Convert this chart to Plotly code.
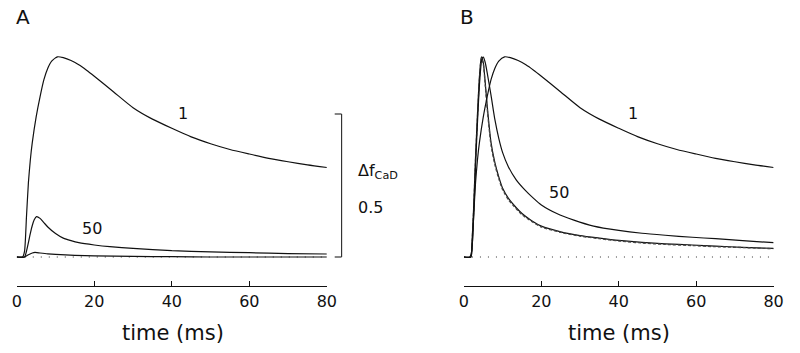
import plotly.graph_objects as go

# ---- data ----
# curve "1" (same in both panels)
t1 = [0, 1.5, 2, 2.5, 3, 3.5, 4, 5, 6, 7, 8, 9, 10.5, 12, 14, 16, 18, 20, 25, 30, 35, 40, 45, 50, 55, 60, 65, 70, 75, 80]
v1 = [0, 0, 0.02, 0.14, 0.26, 0.34, 0.40, 0.49, 0.56, 0.62, 0.66, 0.685, 0.70, 0.697, 0.687, 0.672, 0.653, 0.632,
      0.577, 0.522, 0.482, 0.45, 0.42, 0.396, 0.376, 0.36, 0.345, 0.333, 0.322, 0.313]

# panel A: curve "50" and lowest curve
ta50 = [0, 2.0, 2.5, 3.0, 3.5, 4.0, 4.5, 5.1, 6, 7, 8, 10, 12, 14, 16, 20, 24, 30, 40, 50, 60, 70, 80]
va50 = [0, 0, 0.02, 0.05, 0.083, 0.11, 0.13, 0.141, 0.135, 0.12, 0.105, 0.082, 0.066, 0.057, 0.05, 0.042, 0.036,
        0.03, 0.022, 0.018, 0.015, 0.012, 0.0105]
ta3 = [0, 2.0, 3.0, 4.0, 4.7, 6, 8, 10, 15, 20, 30, 40, 50, 80]
va3 = [0, 0, 0.008, 0.014, 0.016, 0.014, 0.011, 0.009, 0.006, 0.004, 0.002, 0.001, 0, 0]

# panel B: normalised curve "50", lowest solid curve and dashed curve
tb50 = [0, 1.8, 2.1, 2.6, 3.1, 3.6, 4.1, 4.6, 5.0, 5.5, 6, 7, 8, 9, 10, 11.5, 13.5, 15.8, 18, 20, 24, 28.4, 33.5,
        40, 46, 52, 59, 65, 72, 80]
vb50 = [0, 0, 0.03, 0.17, 0.35, 0.50, 0.62, 0.69, 0.70, 0.68, 0.645, 0.565, 0.48, 0.415, 0.365, 0.315, 0.27, 0.234,
        0.205, 0.182, 0.152, 0.129, 0.108, 0.093, 0.083, 0.076, 0.069, 0.064, 0.057, 0.050]
tb3 = [0, 1.8, 2.0, 2.5, 3.0, 3.5, 4.0, 4.5, 5.0, 5.5, 6.0, 6.5, 7, 8, 9, 10, 11.5, 13, 15, 17.5, 20, 25, 30, 35,
       40, 46, 52, 59, 65, 72, 80]
vb3 = [0, 0, 0.03, 0.17, 0.35, 0.50, 0.63, 0.70, 0.68, 0.61, 0.53, 0.46, 0.40, 0.33, 0.28, 0.24, 0.205, 0.18, 0.152,
       0.127, 0.108, 0.088, 0.075, 0.066, 0.058, 0.051, 0.046, 0.042, 0.038, 0.034, 0.030]
tbd = [2.0, 2.5, 3.0, 3.5, 4.0, 4.5, 5.0, 5.5, 6.0, 6.5, 7, 8, 9, 10, 11.5, 13, 15, 17.5, 20, 25, 30, 35, 40, 46,
       52, 59, 65, 72, 80]
vbd = [0.02, 0.16, 0.34, 0.49, 0.62, 0.695, 0.675, 0.60, 0.52, 0.45, 0.39, 0.322, 0.274, 0.235, 0.200, 0.176, 0.148,
       0.124, 0.105, 0.086, 0.073, 0.064, 0.056, 0.049, 0.044, 0.040, 0.036, 0.033, 0.029]

# zero (dotted) reference line
t0 = [0, 80]
v0 = [0, 0]

xticks = [0, 20, 40, 60, 80]
xlabel = "time (ms)"
scale_bar = [0, 0.5]

W, H = 800, 353
FONT = "DejaVu Sans"
BLACK = "#111111"

fig = go.Figure()


def line(x, y, xa, ya, width=1.2, color=BLACK, dash=None):
    fig.add_trace(go.Scatter(x=x, y=y, mode="lines", xaxis=xa, yaxis=ya, showlegend=False, hoverinfo="skip",
                             line=dict(color=color, width=width, dash=dash, shape="spline", smoothing=0.6)))


# panel A
line(t0, v0, "x", "y", width=1.3, color="#777777", dash="1px,7px")
line(ta3, va3, "x", "y")
line(ta50, va50, "x", "y")
line(t1, v1, "x", "y")
# panel B
line(t0, v0, "x2", "y2", width=1.3, color="#777777", dash="1px,7px")
line(tb3, vb3, "x2", "y2")
line(tbd, vbd, "x2", "y2", width=1.3, color="#444444", dash="3px,2px")
line(tb50, vb50, "x2", "y2")
line(t1, v1, "x2", "y2")

# plot area: y = 0 at 257 px, 0.5 units = 143 px, bottom (x axis line) at 286 px
top_px, bot_px = 40, 286
upp = 0.5 / 143
yr = [-(bot_px - 257) * upp, (257 - top_px) * upp]
ydom = [1 - bot_px / H, 1 - top_px / H]

axis_common = dict(range=[0, 80], tickvals=xticks, ticks="inside", ticklen=5, tickcolor=BLACK,
                   showline=True, linecolor=BLACK, linewidth=1.2, showgrid=False, zeroline=False,
                   tickfont=dict(family=FONT, size=16, color=BLACK), ticklabelstandoff=1)
yaxis_common = dict(range=yr, domain=ydom, visible=False, showgrid=False, zeroline=False)

fig.update_layout(
    width=W, height=H, paper_bgcolor="white", plot_bgcolor="white",
    margin=dict(l=0, r=0, t=0, b=0),
    xaxis=dict(domain=[12 / W, 328 / W], anchor="y", **axis_common),
    xaxis2=dict(domain=[467.7 / W, 783.3 / W], anchor="y2", **axis_common),
    yaxis=dict(anchor="x", **yaxis_common),
    yaxis2=dict(anchor="x2", **yaxis_common),
    font=dict(family=FONT, color=BLACK),
)

# scale bar (0 .. 0.5 on the data scale of panel A)
bx, tk = 343 / W, 7 / W
fig.add_shape(type="line", xref="paper", yref="y", x0=bx, x1=bx, y0=scale_bar[0], y1=scale_bar[1],
              line=dict(color="#333333", width=1.2))
for yv in scale_bar:
    fig.add_shape(type="line", xref="paper", yref="y", x0=bx - tk, x1=bx, y0=yv, y1=yv,
                  line=dict(color="#333333", width=1.2))


def ann(text, x, y, size=16, xanchor="center", xref="paper", yref="paper"):
    fig.add_annotation(text=text, x=x, y=y, xref=xref, yref=yref, showarrow=False, xanchor=xanchor,
                       yanchor="middle", font=dict(family=FONT, size=size, color=BLACK))


def px(xp, yp):
    return xp / W, 1 - yp / H


# panel letters
ann("A", *px(9, 17), size=20, xanchor="left")
ann("B", *px(462, 17), size=20, xanchor="left")
# curve labels (data coordinates)
ann("1", 43, 0.503, xref="x", yref="y")
ann("50", 19.5, 0.10, xref="x", yref="y")
ann("1", 43.6, 0.503, xref="x2", yref="y2")
ann("50", 24.6, 0.224, xref="x2", yref="y2")
# scale bar labels
ann("Δf<sub>CaD</sub>", *px(358, 172), size=16, xanchor="left")
ann("0.5", *px(358, 207), size=16, xanchor="left")
# axis titles
ann(xlabel, *px(171, 333), size=21)
ann(xlabel, *px(626, 333), size=21)

# remove the browser's default page margin so the 800x353 figure fills the window exactly
fig.write_html("out.html", config={"displayModeBar": False, "staticPlot": True},
               post_script="document.body.style.margin='0';")
